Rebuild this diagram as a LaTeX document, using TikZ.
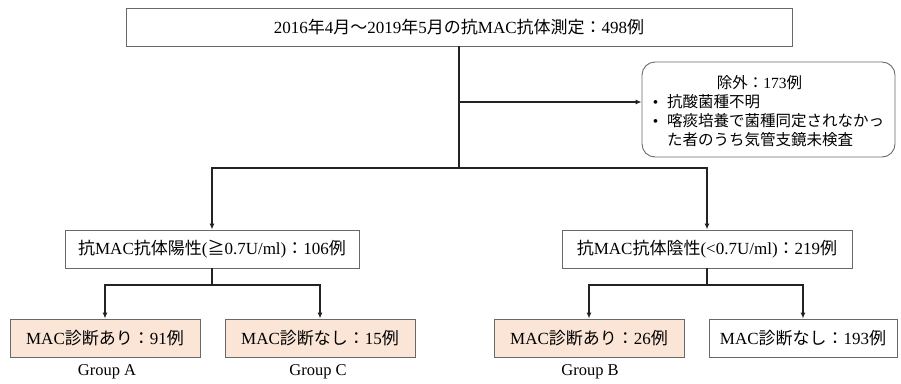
\documentclass[tikz,border=0pt]{standalone}
\usepackage{fontspec}
\setmainfont{Liberation Serif}
\newfontfamily\jpfont{Noto Sans CJK JP}
\newcommand{\ja}[1]{{\jpfont #1}}
\usepackage{tikz}
\usetikzlibrary{arrows.meta,positioning,calc}
\definecolor{boxpeach}{RGB}{251,229,214}
\definecolor{boxline}{RGB}{105,105,105}
\definecolor{linkdark}{RGB}{35,35,35}

\begin{document}
\begin{tikzpicture}[x=1pt,y=-1pt,
    box/.style={draw=boxline,line width=0.9pt,fill=white,minimum height=38pt,
        inner sep=2pt,font=\fontsize{17}{20}\selectfont},
    groupbox/.style={box,fill=boxpeach,minimum width=190pt},
    exbox/.style={draw=boxline,line width=0.9pt,rounded corners=13pt,minimum width=253pt,
        minimum height=95pt,inner sep=2pt,font=\fontsize{15.5}{19}\selectfont},
    link/.style={draw=linkdark,line width=1.3pt},
    arr/.style={link,-{Latex[length=6pt,width=5pt]}},
    grouplabel/.style={font=\fontsize{16.5}{19}\selectfont}]
    \useasboundingbox (0,0) rectangle (901,383);

    % Boxes
    \node[box,minimum width=666pt] (total) at (459,27)
        {2016\ja{年}4\ja{月～}2019\ja{年}5\ja{月の抗}MAC\ja{抗体測定：}498\ja{例}};
    \node[exbox] (excl) at (768.5,109.5) {\begin{tabular}{@{}l@{\hspace{9pt}}l@{}}
        \multicolumn{2}{c}{\rule{0pt}{21pt}\hspace{-18pt}\ja{除外：}173\ja{例}}\\
        • & \ja{抗酸菌種不明}\\
        • & \ja{喀痰培養で菌種同定されなかっ}\\
          & \ja{た者のうち気管支鏡未検査}
        \end{tabular}};
    \node[box,minimum width=294pt] (pos) at (212,249)
        {\ja{抗}MAC\ja{抗体陽性}(\ja{≧}0.7U/ml)\ja{：}106\ja{例}};
    \node[box,minimum width=290pt] (neg) at (707,249)
        {\ja{抗}MAC\ja{抗体陰性}(<0.7U/ml)\ja{：}219\ja{例}};
    \node[groupbox] (grpA) at (105,338) {MAC\ja{診断あり：}91\ja{例}};
    \node[groupbox] (grpC) at (320,338) {MAC\ja{診断なし：}15\ja{例}};
    \node[groupbox] (grpB) at (589,338) {MAC\ja{診断あり：}26\ja{例}};
    \node[box,minimum width=188pt] (noneD) at (803,338) {MAC\ja{診断なし：}193\ja{例}};

    % Group labels
    \node[grouplabel] (labA) at (107,372) {Group A};
    \node[grouplabel] (labC) at (318,372) {Group C};
    \node[grouplabel] (labB) at (590,372) {Group B};

    % Connectors
    \coordinate (exc) at (459,102);
    \coordinate (split) at (459,168);
    \coordinate (psplit) at (212,285);
    \coordinate (nsplit) at (707,285);
    \draw[link] (total.south) -- (split);
    \draw[arr] (exc) -- (exc -| excl.west);
    \draw[arr] (split) -| (pos.north);
    \draw[arr] (split) -| (neg.north);
    \draw[link] (pos.south) -- (psplit);
    \draw[arr] (psplit) -| (grpA.north);
    \draw[arr] (psplit) -| (grpC.north);
    \draw[link] (neg.south) -- (nsplit);
    \draw[arr] (nsplit) -| (grpB.north);
    \draw[arr] (nsplit) -| (noneD.north);
\end{tikzpicture}
\end{document}
